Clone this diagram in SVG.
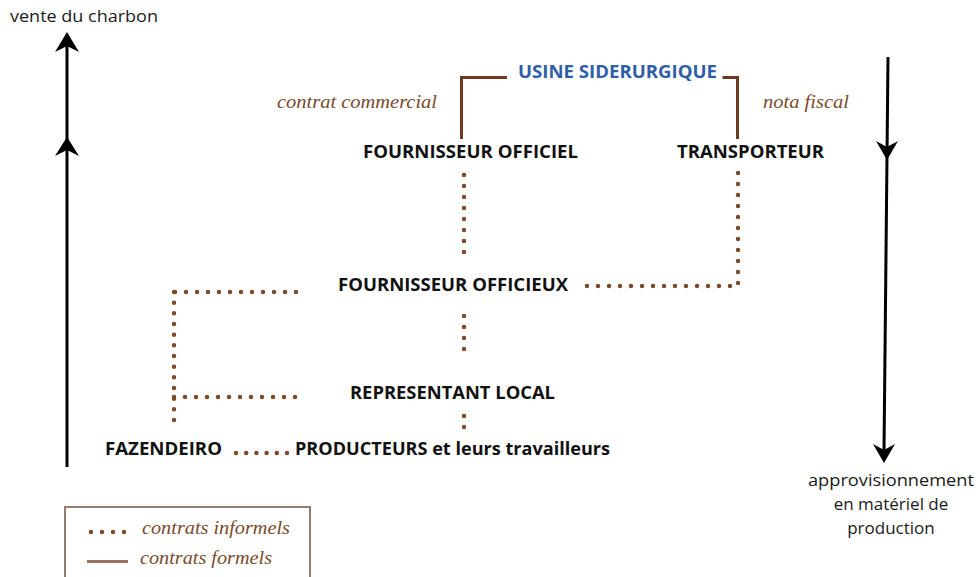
<svg xmlns="http://www.w3.org/2000/svg" width="977" height="577" viewBox="0 0 977 577">
<style>
.lbl{font-family:"Open Sans","Liberation Sans",sans-serif;font-weight:bold;font-size:17px;fill:#111}
.plain{font-family:"Open Sans","Liberation Sans",sans-serif;font-size:17px;fill:#1a1a1a}
.ital{font-family:"Liberation Serif","Times New Roman",serif;font-style:italic;font-size:19px;fill:#7a4a2d}
.formal{fill:none;stroke:#6b3a1f;stroke-width:3}
.informal{fill:none;stroke:#7b4a2a;stroke-width:4.5;stroke-linecap:round;stroke-dasharray:0 11}
.flow{fill:none;stroke:#000;stroke-width:3}
.head{fill:#000}
</style>
<rect width="977" height="577" fill="#fff"/>

<g id="flow-left">
  <line class="flow" x1="67" y1="467" x2="67" y2="42"/>
  <path class="head" d="M67 32 L79 52 L67 46 L55 52 Z"/>
  <path class="head" d="M67 137 L79 156 L67 150 L55 156 Z"/>
  <text class="plain" x="10" y="22" textLength="148" lengthAdjust="spacingAndGlyphs">vente du charbon</text>
</g>

<g id="flow-right">
  <line class="flow" x1="888" y1="57" x2="884" y2="452"/>
  <path class="head" d="M887 160 L898 141 L887 147 L876 141 Z"/>
  <path class="head" d="M884 463 L895 444 L884 450 L873 444 Z"/>
  <text class="plain" text-anchor="middle" x="891" y="486" textLength="166" lengthAdjust="spacingAndGlyphs">approvisionnement</text>
  <text class="plain" text-anchor="middle" x="891" y="510">en matériel de</text>
  <text class="plain" text-anchor="middle" x="891" y="534">production</text>
</g>

<g id="connectors">
  <path class="formal" d="M461.5 139 V77.5 H507"/>
  <path class="formal" d="M722.5 77.5 H737.5 V139"/>
  <path class="informal" d="M464 175 V253"/>
  <path class="informal" d="M738 173 V286 H583"/>
  <path class="informal" d="M296 292 H174"/>
  <path class="informal" style="stroke-dasharray:0 10.67" d="M174 292 V420.1"/>
  <path class="informal" d="M174 397 H295.5"/>
  <path class="informal" d="M464 316 V360"/>
  <path class="informal" d="M464 416 V427.5"/>
  <path class="informal" style="stroke-dasharray:0 10.2" d="M236 453 H287.1"/>
</g>

<g id="usine">
  <text class="lbl" x="518" y="78" style="fill:#2f5ea8" textLength="199" lengthAdjust="spacingAndGlyphs">USINE SIDERURGIQUE</text>
</g>
<g id="contrat-commercial">
  <text class="ital" x="277" y="108" textLength="160" lengthAdjust="spacingAndGlyphs">contrat commercial</text>
</g>
<g id="nota-fiscal">
  <text class="ital" x="763" y="108" textLength="86" lengthAdjust="spacingAndGlyphs">nota fiscal</text>
</g>
<g id="fournisseur-officiel">
  <text class="lbl" x="363" y="158" textLength="215" lengthAdjust="spacingAndGlyphs">FOURNISSEUR OFFICIEL</text>
</g>
<g id="transporteur">
  <text class="lbl" x="677" y="158" textLength="147" lengthAdjust="spacingAndGlyphs">TRANSPORTEUR</text>
</g>
<g id="fournisseur-officieux">
  <text class="lbl" x="338" y="291" textLength="230" lengthAdjust="spacingAndGlyphs">FOURNISSEUR OFFICIEUX</text>
</g>
<g id="representant-local">
  <text class="lbl" x="350" y="399" textLength="205" lengthAdjust="spacingAndGlyphs">REPRESENTANT LOCAL</text>
</g>
<g id="fazendeiro">
  <text class="lbl" x="105" y="455" textLength="117" lengthAdjust="spacingAndGlyphs">FAZENDEIRO</text>
</g>
<g id="producteurs">
  <text class="lbl" x="295" y="455" textLength="315" lengthAdjust="spacingAndGlyphs">PRODUCTEURS et leurs travailleurs</text>
</g>

<g id="legend">
  <rect x="65" y="507" width="245" height="80" fill="none" stroke="#8a6d5e" stroke-width="1.8"/>
  <path class="informal" d="M91 532 H127"/>
  <text class="ital" x="142" y="534" textLength="148" lengthAdjust="spacingAndGlyphs">contrats informels</text>
  <line x1="87" y1="561.5" x2="128" y2="561.5" stroke="#9c7560" stroke-width="3"/>
  <text class="ital" x="140" y="564" textLength="132" lengthAdjust="spacingAndGlyphs">contrats formels</text>
</g>
</svg>
